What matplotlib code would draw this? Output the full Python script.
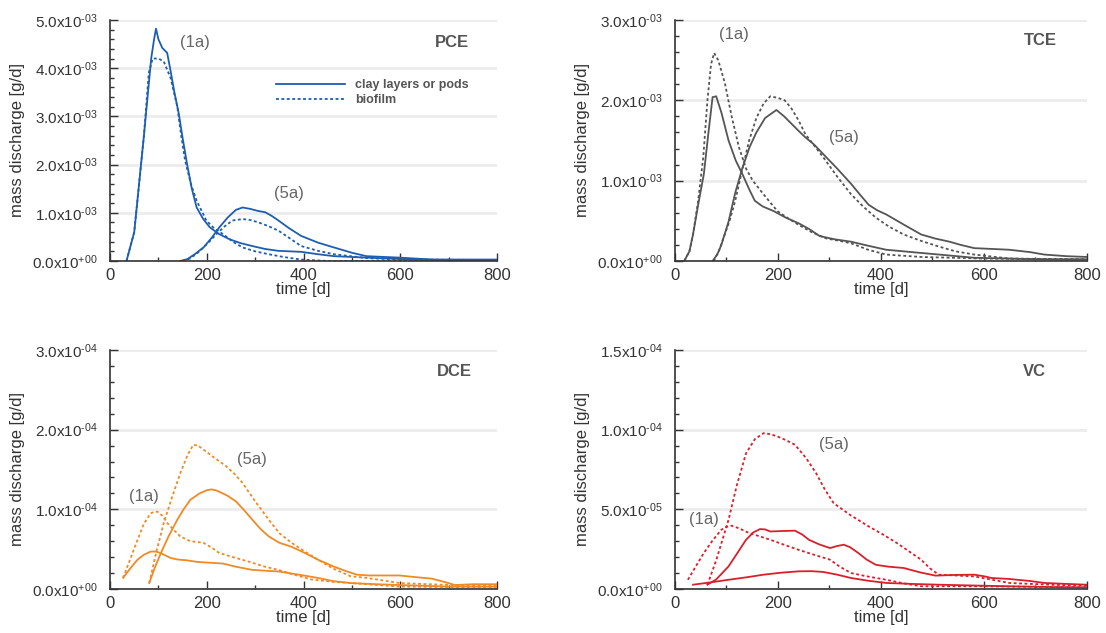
import matplotlib
matplotlib.use("Agg")
import matplotlib.pyplot as plt
from matplotlib.ticker import FuncFormatter, MultipleLocator, AutoMinorLocator

plt.rcParams['font.family'] = ['Liberation Sans', 'DejaVu Sans']
plt.rcParams['mathtext.fontset'] = 'custom'
plt.rcParams['mathtext.rm'] = 'Liberation Sans'
plt.rcParams['mathtext.it'] = 'Liberation Sans:italic'
plt.rcParams['mathtext.bf'] = 'Liberation Sans:bold'

# PCE (g/d, x1e-3)
pce_1a_solid_t = [34, 50, 70, 85, 91, 95, 100, 108, 118, 125, 133, 142, 150, 159, 169, 179, 192, 206, 225, 247, 270, 294, 320, 348, 395, 430, 463, 530, 600, 700, 800]
pce_1a_solid_v = [0, 0.6, 2.6, 4.2, 4.6, 4.82, 4.6, 4.42, 4.32, 3.95, 3.5, 3.06, 2.55, 2.02, 1.5, 1.11, 0.88, 0.70, 0.56, 0.45, 0.37, 0.31, 0.25, 0.21, 0.19, 0.14, 0.10, 0.07, 0.04, 0.02, 0.01]
pce_1a_dot_t = [34, 50, 70, 80, 88, 100, 111, 125, 139, 147, 155, 167, 179, 199, 215, 233, 254, 274, 300, 328, 360, 395, 450, 600, 800]
pce_1a_dot_v = [0, 0.6, 2.6, 3.9, 4.2, 4.2, 4.14, 3.8, 3.2, 2.6, 2.09, 1.6, 1.25, 0.84, 0.68, 0.56, 0.40, 0.28, 0.20, 0.14, 0.08, 0.03, 0.0, 0.0, 0.0]
pce_5a_solid_t = [145, 160, 175, 193, 210, 226, 243, 260, 274, 290, 305, 321, 335, 348, 370, 395, 430, 463, 500, 530, 598, 665, 800]
pce_5a_solid_v = [0, 0.04, 0.14, 0.28, 0.48, 0.70, 0.90, 1.06, 1.11, 1.08, 1.04, 1.01, 0.93, 0.84, 0.68, 0.52, 0.38, 0.28, 0.17, 0.10, 0.07, 0.03, 0.03]
pce_5a_dot_t = [150, 165, 180, 193, 207, 220, 237, 253, 274, 290, 307, 328, 348, 370, 395, 430, 463, 530, 600, 800]
pce_5a_dot_v = [0, 0.05, 0.16, 0.28, 0.42, 0.56, 0.72, 0.84, 0.87, 0.85, 0.80, 0.72, 0.63, 0.48, 0.31, 0.21, 0.14, 0.06, 0.03, 0.02]

# TCE (g/d, x1e-3)
tce_1a_solid_t = [18, 28, 35, 45, 56, 65, 73, 80, 90, 104, 118, 131, 145, 155, 170, 192, 215, 240, 260, 281, 310, 342, 375, 410, 478, 530, 581, 649, 720, 800]
tce_1a_solid_v = [0, 0.12, 0.33, 0.70, 1.08, 1.60, 2.04, 2.05, 1.85, 1.50, 1.25, 1.08, 0.88, 0.75, 0.68, 0.62, 0.54, 0.47, 0.40, 0.31, 0.27, 0.24, 0.19, 0.14, 0.10, 0.07, 0.04, 0.03, 0.02, 0.02]
tce_1a_dot_t = [18, 28, 35, 45, 55, 63, 70, 76, 84, 97, 110, 124, 138, 151, 172, 199, 220, 240, 265, 294, 320, 342, 375, 410, 478, 600, 800]
tce_1a_dot_v = [0, 0.12, 0.33, 0.75, 1.3, 2.0, 2.45, 2.59, 2.50, 2.21, 1.80, 1.42, 1.15, 1.0, 0.83, 0.62, 0.53, 0.45, 0.36, 0.28, 0.25, 0.22, 0.14, 0.08, 0.05, 0.03, 0.02]
tce_5a_solid_t = [73, 82, 90, 104, 117, 131, 145, 158, 175, 197, 212, 226, 240, 253, 270, 288, 315, 342, 360, 376, 393, 410, 445, 478, 505, 533, 555, 581, 615, 649, 690, 717, 760, 800]
tce_5a_solid_v = [0, 0.08, 0.2, 0.49, 0.85, 1.16, 1.42, 1.60, 1.78, 1.88, 1.80, 1.71, 1.62, 1.54, 1.45, 1.33, 1.15, 0.96, 0.82, 0.70, 0.63, 0.58, 0.45, 0.33, 0.28, 0.24, 0.20, 0.16, 0.15, 0.14, 0.11, 0.08, 0.06, 0.05]
tce_5a_dot_t = [75, 85, 95, 106, 117, 130, 144, 158, 172, 185, 200, 213, 226, 240, 253, 270, 288, 315, 342, 365, 390, 415, 444, 478, 512, 545, 581, 650, 800]
tce_5a_dot_v = [0, 0.12, 0.3, 0.5, 0.75, 1.12, 1.50, 1.78, 1.96, 2.05, 2.03, 2.00, 1.90, 1.75, 1.58, 1.44, 1.29, 1.05, 0.83, 0.68, 0.54, 0.43, 0.33, 0.25, 0.18, 0.12, 0.08, 0.03, 0.02]

# DCE (g/d, x1e-4)
dce_1a_solid_t = [27, 42, 57, 70, 84, 95, 105, 125, 140, 159, 180, 206, 233, 260, 294, 320, 348, 390, 429, 460, 497, 550, 598, 650, 699, 800]
dce_1a_solid_v = [0.14, 0.26, 0.37, 0.43, 0.47, 0.47, 0.45, 0.39, 0.37, 0.36, 0.34, 0.33, 0.32, 0.28, 0.24, 0.23, 0.22, 0.18, 0.14, 0.10, 0.075, 0.06, 0.05, 0.04, 0.03, 0.03]
dce_1a_dot_t = [27, 42, 57, 70, 84, 92, 98, 108, 118, 132, 145, 166, 180, 193, 210, 226, 260, 294, 320, 348, 380, 416, 460, 497, 598, 800]
dce_1a_dot_v = [0.14, 0.38, 0.62, 0.82, 0.95, 0.97, 0.97, 0.92, 0.83, 0.74, 0.66, 0.60, 0.59, 0.58, 0.52, 0.45, 0.39, 0.33, 0.28, 0.24, 0.18, 0.12, 0.09, 0.075, 0.03, 0.02]
dce_5a_solid_t = [81, 92, 105, 120, 139, 152, 166, 185, 200, 209, 218, 226, 243, 260, 277, 294, 310, 328, 350, 375, 400, 429, 463, 490, 510, 535, 564, 598, 630, 665, 690, 713, 750, 800]
dce_5a_solid_v = [0.075, 0.26, 0.45, 0.65, 0.87, 1.0, 1.12, 1.20, 1.24, 1.25, 1.24, 1.22, 1.17, 1.10, 0.99, 0.87, 0.76, 0.66, 0.58, 0.53, 0.46, 0.37, 0.28, 0.22, 0.18, 0.17, 0.17, 0.17, 0.15, 0.13, 0.09, 0.05, 0.06, 0.06]
dce_5a_dot_t = [81, 95, 111, 128, 145, 160, 172, 182, 193, 215, 240, 258, 274, 300, 328, 350, 375, 400, 429, 460, 497, 530, 598, 700, 800]
dce_5a_dot_v = [0.075, 0.45, 0.83, 1.15, 1.45, 1.68, 1.81, 1.80, 1.75, 1.65, 1.54, 1.44, 1.33, 1.10, 0.87, 0.70, 0.58, 0.48, 0.37, 0.26, 0.16, 0.14, 0.075, 0.05, 0.04]

# VC (g/d, x1e-5)
vc_1a_solid_t = [35, 70, 104, 140, 172, 205, 240, 265, 288, 315, 342, 375, 410, 460, 512, 580, 649, 720, 800]
vc_1a_solid_v = [0.27, 0.42, 0.58, 0.74, 0.90, 1.02, 1.11, 1.12, 1.07, 0.90, 0.69, 0.52, 0.38, 0.32, 0.27, 0.22, 0.17, 0.13, 0.10]
vc_1a_dot_t = [25, 40, 56, 72, 90, 100, 110, 125, 144, 165, 185, 210, 240, 270, 301, 320, 342, 375, 410, 445, 478, 600, 800]
vc_1a_dot_v = [0.58, 1.4, 2.26, 3.0, 3.72, 3.90, 3.97, 3.80, 3.51, 3.30, 3.09, 2.80, 2.46, 2.15, 1.84, 1.40, 1.0, 0.78, 0.58, 0.35, 0.17, 0.17, 0.10]
vc_5a_solid_t = [63, 80, 104, 120, 138, 152, 165, 175, 185, 210, 233, 247, 260, 280, 301, 315, 328, 340, 356, 372, 390, 415, 444, 475, 506, 540, 581, 600, 615, 649, 690, 717, 760, 800]
vc_5a_solid_v = [0.27, 0.6, 1.42, 2.2, 3.09, 3.55, 3.76, 3.74, 3.61, 3.64, 3.66, 3.42, 3.09, 2.80, 2.57, 2.70, 2.78, 2.62, 2.26, 1.85, 1.52, 1.40, 1.32, 1.05, 0.84, 0.88, 0.90, 0.80, 0.69, 0.63, 0.50, 0.38, 0.32, 0.27]
vc_5a_dot_t = [63, 80, 104, 120, 138, 155, 172, 185, 199, 215, 233, 255, 274, 290, 308, 340, 376, 405, 431, 455, 478, 495, 512, 545, 581, 649, 720, 800]
vc_5a_dot_v = [0.27, 1.8, 4.35, 6.5, 8.52, 9.4, 9.78, 9.72, 9.57, 9.35, 9.05, 8.20, 7.27, 6.30, 5.39, 4.65, 3.93, 3.40, 2.88, 2.35, 1.84, 1.30, 0.90, 0.85, 0.79, 0.38, 0.28, 0.20]

panels = [
    dict(name="PCE", color="#1e5eb0", scale=1e-3, ymax=5e-3, major=1e-3,
         s1=(pce_1a_solid_t, pce_1a_solid_v), d1=(pce_1a_dot_t, pce_1a_dot_v),
         s5=(pce_5a_solid_t, pce_5a_solid_v), d5=(pce_5a_dot_t, pce_5a_dot_v),
         lab1=(176, 4.54e-3), lab5=(370, 1.40e-3), namepos=(742, 4.54e-3),
         rect=[0.0995, 0.5877, 0.350, 0.3807]),
    dict(name="TCE", color="#555555", scale=1e-3, ymax=3e-3, major=1e-3,
         s1=(tce_1a_solid_t, tce_1a_solid_v), d1=(tce_1a_dot_t, tce_1a_dot_v),
         s5=(tce_5a_solid_t, tce_5a_solid_v), d5=(tce_5a_dot_t, tce_5a_dot_v),
         lab1=(114, 2.82e-3), lab5=(328, 1.54e-3), namepos=(741, 2.74e-3),
         rect=[0.6103, 0.5877, 0.3725, 0.3807]),
    dict(name="DCE", color="#f08a24", scale=1e-4, ymax=3e-4, major=1e-4,
         s1=(dce_1a_solid_t, dce_1a_solid_v), d1=(dce_1a_dot_t, dce_1a_dot_v),
         s5=(dce_5a_solid_t, dce_5a_solid_v), d5=(dce_5a_dot_t, dce_5a_dot_v),
         lab1=(71, 1.16e-4), lab5=(294, 1.62e-4), namepos=(747, 2.73e-4),
         rect=[0.0995, 0.0695, 0.350, 0.3776]),
    dict(name="VC", color="#d8202c", scale=1e-5, ymax=1.5e-4, major=5e-5,
         s1=(vc_1a_solid_t, vc_1a_solid_v), d1=(vc_1a_dot_t, vc_1a_dot_v),
         s5=(vc_5a_solid_t, vc_5a_solid_v), d5=(vc_5a_dot_t, vc_5a_dot_v),
         lab1=(56, 4.39e-5), lab5=(308, 9.05e-5), namepos=(720, 1.364e-4),
         rect=[0.6103, 0.0695, 0.3725, 0.3776]),
]


def sci_fmt(v, pos):
    if v == 0:
        return r'0.0x10$^{\text{+00}}$'
    s = "%.1e" % v
    mant, ex = s.split("e")
    return mant + r'x10$^{\text{' + ex[0] + ex[1:].zfill(2) + '}}$'


fig = plt.figure(figsize=(11.06, 6.33), dpi=100)
dots = (0, (1.6, 1.4))
for p in panels:
    ax = fig.add_axes(p["rect"])
    c = p["color"]
    sc = p["scale"]
    ax.plot(p["s1"][0], [v * sc for v in p["s1"][1]], color=c, lw=1.3, label="clay layers or pods")
    ax.plot(p["d1"][0], [v * sc for v in p["d1"][1]], color=c, lw=1.3, ls=dots, label="biofilm")
    ax.plot(p["s5"][0], [v * sc for v in p["s5"][1]], color=c, lw=1.3)
    ax.plot(p["d5"][0], [v * sc for v in p["d5"][1]], color=c, lw=1.3, ls=dots)

    ax.set_xlim(0, 800)
    ax.set_ylim(0, p["ymax"])
    ax.xaxis.set_major_locator(MultipleLocator(200))
    ax.xaxis.set_minor_locator(MultipleLocator(100))
    ax.yaxis.set_major_locator(MultipleLocator(p["major"]))
    ax.yaxis.set_minor_locator(AutoMinorLocator(5))
    ax.yaxis.set_major_formatter(FuncFormatter(sci_fmt))
    ax.tick_params(which="both", direction="in", color="#333333", labelcolor="#333333",
                   labelsize=11, width=1.0)
    ax.tick_params(which="major", length=6)
    ax.tick_params(which="minor", length=3)
    ax.tick_params(axis="y", pad=9)
    ax.tick_params(axis="x", pad=5, labelsize=12)
    for side in ["top", "right"]:
        ax.spines[side].set_visible(False)
    for side in ["left", "bottom"]:
        ax.spines[side].set_color("#333333")
        ax.spines[side].set_linewidth(1.2)
    ax.yaxis.grid(True, color="#ececec", lw=2)
    ax.set_axisbelow(True)
    ax.set_xlabel("time [d]", fontsize=12, color="#333333", labelpad=-1)
    ax.set_ylabel("mass discharge [g/d]", fontsize=12, color="#333333", labelpad=5)

    ax.text(p["lab1"][0], p["lab1"][1], "(1a)", fontsize=12, color="#666666", ha="center", va="center")
    ax.text(p["lab5"][0], p["lab5"][1], "(5a)", fontsize=12, color="#666666", ha="center", va="center")
    ax.text(p["namepos"][0], p["namepos"][1], p["name"], fontsize=12, fontweight="bold",
            color="#555555", ha="right", va="center")

    if p["name"] == "PCE":
        leg = ax.legend(loc="upper left", bbox_to_anchor=(0.40, 0.80), frameon=False,
                        prop={"weight": "bold", "size": 9}, handlelength=5.5,
                        handletextpad=0.8, labelspacing=0.2, labelcolor="#555555")

fig.savefig("out.png", dpi=100)
